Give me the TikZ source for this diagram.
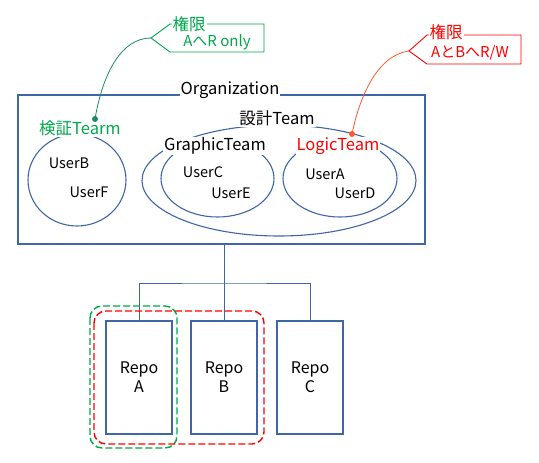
\documentclass[tikz,border=0pt]{standalone}
\usepackage{fontspec}
\setmainfont{Noto Sans CJK JP}
\usetikzlibrary{positioning,calc,shapes.geometric}
\definecolor{cLine}{HTML}{3F67A8}
\definecolor{cGrn}{HTML}{00A84A}
\definecolor{cGrnL}{HTML}{1E8A64}
\definecolor{cRed}{HTML}{FF0000}
\definecolor{cRedL}{HTML}{FF5A2E}
\tikzset{
  orgbox/.style={draw=cLine,line width=1.3pt,minimum width=407pt,
      minimum height=149pt,inner sep=0pt},
  ring/.style={ellipse,draw=cLine,line width=1.1pt,inner sep=0pt},
  user/.style={font=\fontsize{14.5}{17}\selectfont,inner sep=1pt},
  lab/.style={font=\fontsize{16.5}{19}\selectfont,fill=white,inner sep=1pt},
  calltext/.style={font=\fontsize{15}{18}\selectfont,inner sep=1pt},
  dotmark/.style={circle,inner sep=0pt,minimum size=6pt},
  leadG/.style={draw=cGrnL,line width=0.8pt},
  leadR/.style={draw=cRedL,line width=0.8pt},
  calloutG/.style={draw=cGrn,line width=0.9pt},
  calloutR/.style={draw=cRed,line width=0.9pt},
  repo/.style={draw=cLine,line width=1.3pt,minimum width=66pt,minimum height=113pt,
      align=center,font=\fontsize{16}{19}\selectfont,inner sep=0pt},
  tree/.style={draw=cLine,line width=0.9pt},
  grpG/.style={draw=cGrn,line width=1.4pt,dash pattern=on 7pt off 3pt,rounded corners=12pt},
  grpR/.style={draw=cRed,line width=1.4pt,dash pattern=on 7pt off 3pt,rounded corners=12pt},
}
\begin{document}
\begin{tikzpicture}[x=1pt,y=-1pt]
  \useasboundingbox (0,0) rectangle (539,463);

  % organization and teams
  \node[orgbox] (org) at (221.5,169.5) {};
  \node[ring,minimum width=98pt,minimum height=92pt] (kensho) at (77,180) {};
  \node[ring,minimum width=274pt,minimum height=111pt] (sekkei) at (279,180.5) {};
  \node[ring,minimum width=113pt,minimum height=77pt] (graphic) at (217.5,178.5) {};
  \node[ring,minimum width=114pt,minimum height=77pt] (logic) at (340,178.5) {};

  \node[user] (userB) at (69,163) {UserB};
  \node[user] (userF) at (89,192) {UserF};
  \node[user] (userC) at (203,172) {UserC};
  \node[user] (userE) at (231,193) {UserE};
  \node[user] (userA) at (325,174) {UserA};
  \node[user] (userD) at (355,193) {UserD};

  \node[lab] (orgLab) at (230,90) {Organization};
  \node[lab,text=cGrn] (kenshoLab) at (80,128) {検証Tearm};
  \node[lab] (sekkeiLab) at (277,118) {設計Team};
  \node[lab] (graphicLab) at (215,146) {GraphicTeam};
  \node[lab,text=cRed] (logicLab) at (338,146) {LogicTeam};

  % callouts
  \coordinate (gTip) at (151,38);
  \draw[calloutG] (170,24) -- (gTip) -- (170,52) -- (264,52) -- (264,24) -- cycle;
  \node[lab,text=cGrn] (gHead) at (189,24) {権限};
  \node[calltext,text=cGrn] (gBody) at (217,42) {AへR only};

  \coordinate (rTip) at (409,51);
  \draw[calloutR] (427,35) -- (rTip) -- (427,64) -- (521,64) -- (521,35) -- cycle;
  \node[lab,text=cRed] (rHead) at (446,32) {権限};
  \node[calltext,text=cRed] (rBody) at (470,53) {AとBへR/W};

  \node[dotmark,fill=cGrnL] (gDot) at (95,119) {};
  \node[dotmark,fill=cRedL] (rDot) at (352,134) {};
  \draw[leadG] (gDot.center) .. controls (103,72) and (122,38) .. (gTip);
  \draw[leadR] (rDot.center) .. controls (360,95) and (378,55) .. (rTip);

  % repositories
  \node[repo] (repoA) at (139,377.5) {Repo\\A};
  \node[repo] (repoB) at (224,377.5) {Repo\\B};
  \node[repo] (repoC) at (310,377.5) {Repo\\C};

  \coordinate (split) at (224,283);
  \draw[tree] (repoB.north |- org.south) -- (repoB.north);
  \draw[tree] (repoA.north) |- (split) -| (repoC.north);

  \draw[grpG] (90,306) rectangle (177,448);
  \draw[grpR] (94,311) rectangle (264,444);
\end{tikzpicture}
\end{document}
